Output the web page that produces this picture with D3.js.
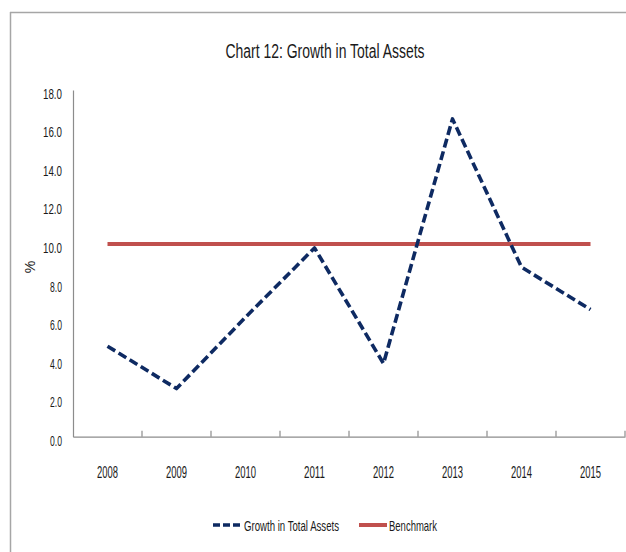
<!DOCTYPE html>
<html>
<head>
<meta charset="utf-8">
<script src="https://cdn.jsdelivr.net/npm/d3@7"></script>
<style>
  html, body { margin: 0; padding: 0; background: #fff; }
  svg { display: block; }
  text { font-family: "Liberation Sans Narrow", "Liberation Sans", "DejaVu Sans Condensed", sans-serif; fill: #1a1a1a; }
</style>
</head>
<body>
<svg id="chart" width="626" height="552"></svg>
<script>
const years = ["2008", "2009", "2010", "2011", "2012", "2013", "2014", "2015"];
const growth = [4.7, 2.5, 6.2, 9.8, 3.8, 16.5, 8.8, 6.6];
const benchmark = [10, 10, 10, 10, 10, 10, 10, 10];
const yTicks = [0, 2, 4, 6, 8, 10, 12, 14, 16, 18];
const seriesNames = ["Growth in Total Assets", "Benchmark"];
const title = "Chart 12: Growth in Total Assets";

const FONT = '"Liberation Sans Narrow", "Liberation Sans", "DejaVu Sans Condensed", sans-serif';
const svg = d3.select("#chart");
const W = 626, H = 552;

// chart frame (top and left border)
svg.append("line").attr("x1", 10).attr("x2", W).attr("y1", 12.5).attr("y2", 12.5)
  .attr("stroke", "#a6a6a6").attr("stroke-width", 1.5);
svg.append("line").attr("x1", 10.5).attr("x2", 10.5).attr("y1", 12).attr("y2", H)
  .attr("stroke", "#a6a6a6").attr("stroke-width", 1.5);

const x = d3.scaleBand().domain(years).range([73, 625]).padding(0);
const y = d3.scaleLinear().domain([0, 18]).range([436.7, 90]);

// title
svg.append("text").attr("x", 325).attr("y", 57.5).attr("text-anchor", "middle")
  .attr("font-size", 20).attr("textLength", 199).attr("lengthAdjust", "spacingAndGlyphs")
  .text(title);

// y axis
const yAxis = svg.append("g").attr("transform", `translate(73,0)`)
  .call(d3.axisLeft(y).tickValues(yTicks).tickFormat(d3.format(".1f")).tickSize(0).tickPadding(11));
yAxis.select(".domain").attr("stroke", "#8c8c8c").attr("stroke-width", 1.2);
yAxis.selectAll("text").attr("font-size", 14.5).attr("dy", "0.58em")
  .attr("textLength", d => d >= 10 ? 19 : 12).attr("lengthAdjust", "spacingAndGlyphs")
  .style("font-family", FONT).attr("fill", "#1a1a1a");

// x axis
const xAxis = svg.append("g").attr("transform", `translate(0,${y(0)})`)
  .call(d3.axisBottom(x).tickSize(0).tickPadding(0));
xAxis.select(".domain").attr("stroke", "#8c8c8c").attr("stroke-width", 1.2);
xAxis.selectAll(".tick text").attr("font-size", 16).attr("dy", 0).attr("y", 41)
  .attr("textLength", 21).attr("lengthAdjust", "spacingAndGlyphs")
  .style("font-family", FONT).attr("fill", "#1a1a1a");
// category boundary ticks pointing inward
const bounds = years.slice(1).map(yr => x(yr)).concat([x(years[years.length - 1]) + x.bandwidth()]);
xAxis.selectAll(".bt").data(bounds).enter().append("line").attr("class", "bt")
  .attr("x1", d => d).attr("x2", d => d).attr("y1", 0).attr("y2", -6)
  .attr("stroke", "#8c8c8c").attr("stroke-width", 1.2);

// y-axis title
svg.append("text").attr("transform", "translate(35,267) rotate(-90)").attr("text-anchor", "middle")
  .attr("font-size", 14).text("%");

const cx = d => x(d) + x.bandwidth() / 2;

// benchmark
const line = d3.line().x(d => cx(d[0])).y(d => y(d[1]));
svg.append("path").datum(years.map((yr, i) => [yr, benchmark[i]]))
  .attr("d", line).attr("fill", "none").attr("stroke", "#C0504D").attr("stroke-width", 4);

// growth
svg.append("path").datum(years.map((yr, i) => [yr, growth[i]]))
  .attr("d", line).attr("fill", "none").attr("stroke", "#0E2A62").attr("stroke-width", 3.6)
  .attr("stroke-dasharray", "9,4").attr("stroke-linejoin", "round");

// legend
const lg = svg.append("g");
lg.append("line").attr("x1", 213).attr("x2", 240).attr("y1", 525).attr("y2", 525)
  .attr("stroke", "#0E2A62").attr("stroke-width", 3.6).attr("stroke-dasharray", "7,3");
lg.append("text").attr("x", 244).attr("y", 530.5).attr("font-size", 15)
  .attr("textLength", 95).attr("lengthAdjust", "spacingAndGlyphs").text(seriesNames[0]);
lg.append("line").attr("x1", 359).attr("x2", 387).attr("y1", 525).attr("y2", 525)
  .attr("stroke", "#C0504D").attr("stroke-width", 4);
lg.append("text").attr("x", 389).attr("y", 530.5).attr("font-size", 15)
  .attr("textLength", 48).attr("lengthAdjust", "spacingAndGlyphs").text(seriesNames[1]);
</script>
</body>
</html>
